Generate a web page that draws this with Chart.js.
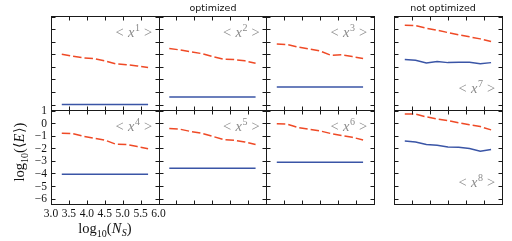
<!DOCTYPE html>
<html>
<head>
<meta charset="utf-8">
<script src="https://cdn.jsdelivr.net/npm/chart.js@4.4.1/dist/chart.umd.min.js"></script>
<style>
  body { margin: 0; background: #fff; }
  #wrap { position: relative; width: 512px; height: 241px; }
  #wrap canvas { position: absolute; left: 0; top: 0; }
</style>
</head>
<body>
<div id="wrap"></div>
<script>
// log10(N_S) sample sizes
const logNs = [3.301, 3.602, 3.903, 4.204, 4.505, 4.806, 5.107, 5.408, 5.709];

// red dashed curves, one per moment <x^n>
const red1 = [-1.99, -2.15, -2.28, -2.34, -2.52, -2.76, -2.82, -2.92, -3.05];
const red2 = [-1.54, -1.65, -1.80, -1.94, -2.18, -2.39, -2.42, -2.52, -2.71];
const red3 = [-1.17, -1.22, -1.43, -1.57, -1.73, -2.07, -2.04, -2.18, -2.34];
const red4 = [-0.80, -0.82, -1.04, -1.20, -1.35, -1.67, -1.70, -1.86, -2.04];
const red5 = [-0.43, -0.48, -0.66, -0.80, -1.04, -1.30, -1.35, -1.49, -1.70];
const red6 = [-0.05, -0.08, -0.35, -0.48, -0.61, -0.82, -0.98, -1.12, -1.33];
const red7 = [0.32, 0.29, 0.08, -0.08, -0.27, -0.45, -0.61, -0.77, -0.98];
const red8 = [0.74, 0.72, 0.50, 0.34, 0.21, 0.03, -0.13, -0.27, -0.53];

// blue solid curves
const blue1 = [-6.00, -6.00, -6.00, -6.00, -6.00, -6.00, -6.00, -6.00, -6.00];
const blue2 = [-5.39, -5.39, -5.39, -5.39, -5.39, -5.39, -5.39, -5.39, -5.39];
const blue3 = [-4.60, -4.60, -4.60, -4.60, -4.60, -4.60, -4.60, -4.60, -4.60];
const blue4 = [-4.06, -4.06, -4.06, -4.06, -4.06, -4.06, -4.06, -4.06, -4.06];
const blue5 = [-3.59, -3.59, -3.59, -3.59, -3.59, -3.59, -3.59, -3.59, -3.59];
const blue6 = [-3.11, -3.11, -3.11, -3.11, -3.11, -3.11, -3.11, -3.11, -3.11];
const blue7 = [-2.42, -2.47, -2.68, -2.58, -2.66, -2.63, -2.63, -2.74, -2.66];
const blue8 = [-1.41, -1.49, -1.70, -1.75, -1.89, -1.91, -2.02, -2.23, -2.10];

const xTicks = [3.0, 3.5, 4.0, 4.5, 5.0, 5.5, 6.0];
const xTickLabels = ['3.0', '3.5', '4.0', '4.5', '5.0', '5.5', '6.0'];
const yTicks = [1, 0, -1, -2, -3, -4, -5, -6];
const yTickLabels = ['1', '0', '\u22121', '\u22122', '\u22123', '\u22124', '\u22125', '\u22126'];

const W = 512, H = 241;
const RED = '#ef4a26';
const BLUE = '#3a55a6';
const SERIF = '"Liberation Serif", "DejaVu Serif", serif';
const SANS = '"DejaVu Sans", sans-serif';

const colLeft = [51, 158.5, 266, 394];
const colW = 107.5;
const rowTop = [16, 110];
const rowH = 94;

const panels = [
  { n: 1, row: 0, col: 0, red: red1, blue: blue1, labelLow: false },
  { n: 2, row: 0, col: 1, red: red2, blue: blue2, labelLow: false },
  { n: 3, row: 0, col: 2, red: red3, blue: blue3, labelLow: false },
  { n: 7, row: 0, col: 3, red: red7, blue: blue7, labelLow: true },
  { n: 4, row: 1, col: 0, red: red4, blue: blue4, labelLow: false },
  { n: 5, row: 1, col: 1, red: red5, blue: blue5, labelLow: false },
  { n: 6, row: 1, col: 2, red: red6, blue: blue6, labelLow: false },
  { n: 8, row: 1, col: 3, red: red8, blue: blue8, labelLow: true }
];

// draw a run of text pieces [text, font, dy, extra gap] starting at x
function drawRun(ctx, pieces, x, y) {
  pieces.forEach(p => {
    ctx.font = p[1];
    ctx.fillText(p[0], x, y + (p[2] || 0));
    x += ctx.measureText(p[0]).width + (p[3] || 0);
  });
  return x;
}
function runWidth(ctx, pieces) {
  let w = 0;
  pieces.forEach(p => { ctx.font = p[1]; w += ctx.measureText(p[0]).width + (p[3] || 0); });
  return w;
}

const panelPlugin = {
  id: 'panelFrame',
  afterDraw(chart, args, opts) {
    const p = opts.panel;
    const ctx = chart.ctx;
    const xs = chart.scales.x, ys = chart.scales.y;
    const a = chart.chartArea;
    const L = Math.round(a.left) + 0.5, R = Math.round(a.right) + 0.5;
    const T = Math.round(a.top) + 0.5, B = Math.round(a.bottom) + 0.5;
    ctx.save();
    ctx.strokeStyle = '#1a1a1a';
    ctx.lineWidth = 1;
    ctx.strokeRect(L, T, R - L, B - T);
    ctx.beginPath();
    xTicks.forEach(v => {
      const px = Math.round(xs.getPixelForValue(v)) + 0.5;
      ctx.moveTo(px, B); ctx.lineTo(px, B - 4);
      ctx.moveTo(px, T); ctx.lineTo(px, T + 4);
    });
    yTicks.forEach(v => {
      const py = Math.round(ys.getPixelForValue(v)) + 0.5;
      ctx.moveTo(L, py); ctx.lineTo(L + 4, py);
      ctx.moveTo(R, py); ctx.lineTo(R - 4, py);
    });
    ctx.stroke();

    // moment label < x^n >
    ctx.fillStyle = '#8a8a8a';
    ctx.textBaseline = 'alphabetic';
    ctx.textAlign = 'left';
    const base = a.top + (p.labelLow ? 77 : 20.5);
    const sx = a.right - 43;
    ctx.font = '14.5px ' + SERIF;
    ctx.fillText('<', sx, base);
    ctx.font = 'italic 14.5px ' + SERIF;
    ctx.fillText('x', sx + 12.5, base);
    const xw = ctx.measureText('x').width;
    ctx.font = '10px ' + SERIF;
    ctx.fillText(String(p.n), sx + 12.5 + xw + 0.5, base - 6);
    ctx.font = '14.5px ' + SERIF;
    ctx.fillText('>', sx + 28.5, base);

    // tick labels only on the lower-left panel
    if (p.row === 1 && p.col === 0) {
      ctx.fillStyle = '#111';
      ctx.font = '11.5px ' + SERIF;
      ctx.textAlign = 'right';
      ctx.textBaseline = 'middle';
      yTicks.forEach((v, i) => {
        ctx.fillText(yTickLabels[i], a.left - 4, ys.getPixelForValue(v) + 0.5);
      });
      ctx.textAlign = 'center';
      ctx.textBaseline = 'top';
      xTicks.forEach((v, i) => {
        ctx.fillText(xTickLabels[i], xs.getPixelForValue(v), a.bottom + 4);
      });
    }

    // figure-level texts, drawn once
    if (p.row === 0 && p.col === 0) {
      ctx.fillStyle = '#111';
      ctx.textBaseline = 'alphabetic';
      ctx.textAlign = 'center';
      ctx.font = '9.5px ' + SANS;
      ctx.fillText('optimized', 213, 11);
      ctx.fillText('not optimized', 443, 11);

      ctx.textAlign = 'left';
      const xl = [
        ['log', '14.5px ' + SERIF, 0],
        ['10', '10px ' + SERIF, 3.5],
        ['(', '14.5px ' + SERIF, 0],
        ['N', 'italic 14.5px ' + SERIF, 0, 0.5],
        ['S', 'italic 10px ' + SERIF, 3],
        [')', '14.5px ' + SERIF, 0]
      ];
      const xw2 = runWidth(ctx, xl);
      drawRun(ctx, xl, 105 - xw2 / 2, 233);

      const yl = [
        ['log', '14.5px ' + SERIF, 0],
        ['10', '10px ' + SERIF, 3.5],
        ['(', '14.5px ' + SERIF, 0],
        ['\u27E8', '14.5px ' + SERIF, 0],
        ['E', 'italic 14.5px ' + SERIF, 0, 0.5],
        ['\u27E9', '14.5px ' + SERIF, 0],
        [')', '14.5px ' + SERIF, 0]
      ];
      const yw = runWidth(ctx, yl);
      ctx.translate(24, 152);
      ctx.rotate(-Math.PI / 2);
      drawRun(ctx, yl, -yw / 2, 0);
    }
    ctx.restore();
  }
};

const wrap = document.getElementById('wrap');
panels.forEach(p => {
  const canvas = document.createElement('canvas');
  canvas.width = W;
  canvas.height = H;
  wrap.appendChild(canvas);
  const left = colLeft[p.col], top = rowTop[p.row];
  new Chart(canvas.getContext('2d'), {
    type: 'line',
    data: {
      datasets: [
        {
          data: logNs.map((x, i) => ({ x: x, y: p.red[i] })),
          borderColor: RED,
          borderWidth: 1.5,
          borderDash: [8.5, 3],
          pointRadius: 0,
          fill: false
        },
        {
          data: logNs.map((x, i) => ({ x: x, y: p.blue[i] })),
          borderColor: BLUE,
          borderWidth: 1.5,
          pointRadius: 0,
          fill: false
        }
      ]
    },
    options: {
      responsive: false,
      animation: false,
      events: [],
      layout: { padding: { left: left, top: top, right: W - left - colW, bottom: H - top - rowH } },
      plugins: { legend: { display: false }, tooltip: { enabled: false }, panelFrame: { panel: p } },
      scales: {
        x: { type: 'linear', min: 3, max: 6, display: false },
        y: { type: 'linear', min: -6.43, max: 1.05, display: false }
      },
      elements: { line: { tension: 0 } }
    },
    plugins: [panelPlugin]
  });
});
</script>
</body>
</html>
